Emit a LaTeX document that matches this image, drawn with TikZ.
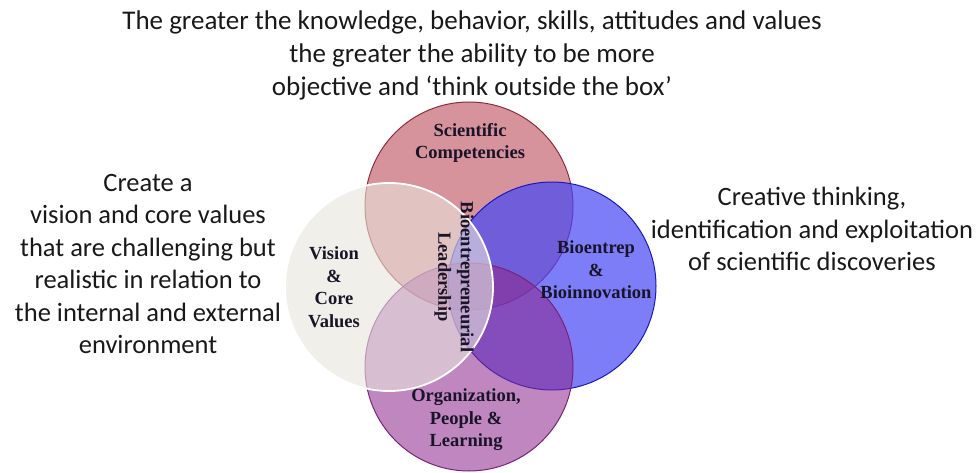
\documentclass[tikz,border=0pt]{standalone}
\usepackage{fontspec}
\setmainfont{Carlito}
\newfontfamily\labelfont{Liberation Serif}

% fills and rims of the four circles
\definecolor{sciFill}{RGB}{190,80,95}
\definecolor{sciRim}{RGB}{140,45,60}
\definecolor{bioFill}{RGB}{70,70,245}
\definecolor{bioRim}{RGB}{25,25,190}
\definecolor{orgFill}{RGB}{140,40,140}
\definecolor{orgRim}{RGB}{120,35,120}
\definecolor{visFill}{RGB}{232,228,220}
\definecolor{inkText}{RGB}{25,25,25}
\definecolor{inkLabel}{RGB}{25,20,40}

\begin{document}
\begin{tikzpicture}[x=1pt,y=-1pt,
  ring/.style={circle, inner sep=0pt, minimum size=208pt, line width=1pt},
  sidetext/.style={font=\fontsize{26.5}{32.5}\selectfont, align=center, text=inkText, inner sep=0pt},
  lbl/.style={font=\labelfont\bfseries\fontsize{18.5}{22.5}\selectfont, align=center, text=inkLabel, inner sep=0pt}
]
\useasboundingbox (0,0) rectangle (976,473);

% the four overlapping circles
\node[ring, draw=sciRim, fill=sciFill, fill opacity=0.62] (sci) at (469,206) {};
\node[ring, draw=bioRim, fill=bioFill, fill opacity=0.70] (bio) at (552,286) {};
\node[ring, draw=orgRim, fill=orgFill, fill opacity=0.56] (org) at (469,367) {};
\node[ring, draw=white, line width=1.8pt, fill=visFill, fill opacity=0.60] (vis) at (389,287) {};

% labels inside the circles
\node[lbl] (sciL) at (470,143) {Scientific\\Competencies};
\node[lbl] (visL) at (334,287) {Vision\\\&\\Core\\Values};
\node[lbl] (bioL) at (596,270) {Bioentrep\\\&\\Bioinnovation};
\node[lbl] (orgL) at (466,420) {Organization,\\People \&\\Learning};
\node[lbl, rotate=-90] (lead) at (454,277) {Bioentrepreneurial\\Leadership};

% surrounding statements
\node[sidetext, font=\fontsize{27}{33}\selectfont] (top) at (472,55)
  {The greater the knowledge, behavior, skills, attitudes and values\\
   the greater the ability to be more\\
   objective and ‘think outside the box’};
\node[sidetext] (left) at (148,264)
  {Create a\\vision and core values\\that are challenging but\\realistic in relation to\\the internal and external\\environment};
\node[sidetext] (right) at (812,229)
  {Creative thinking,\\identification and exploitation\\of scientific discoveries};
\end{tikzpicture}
\end{document}
